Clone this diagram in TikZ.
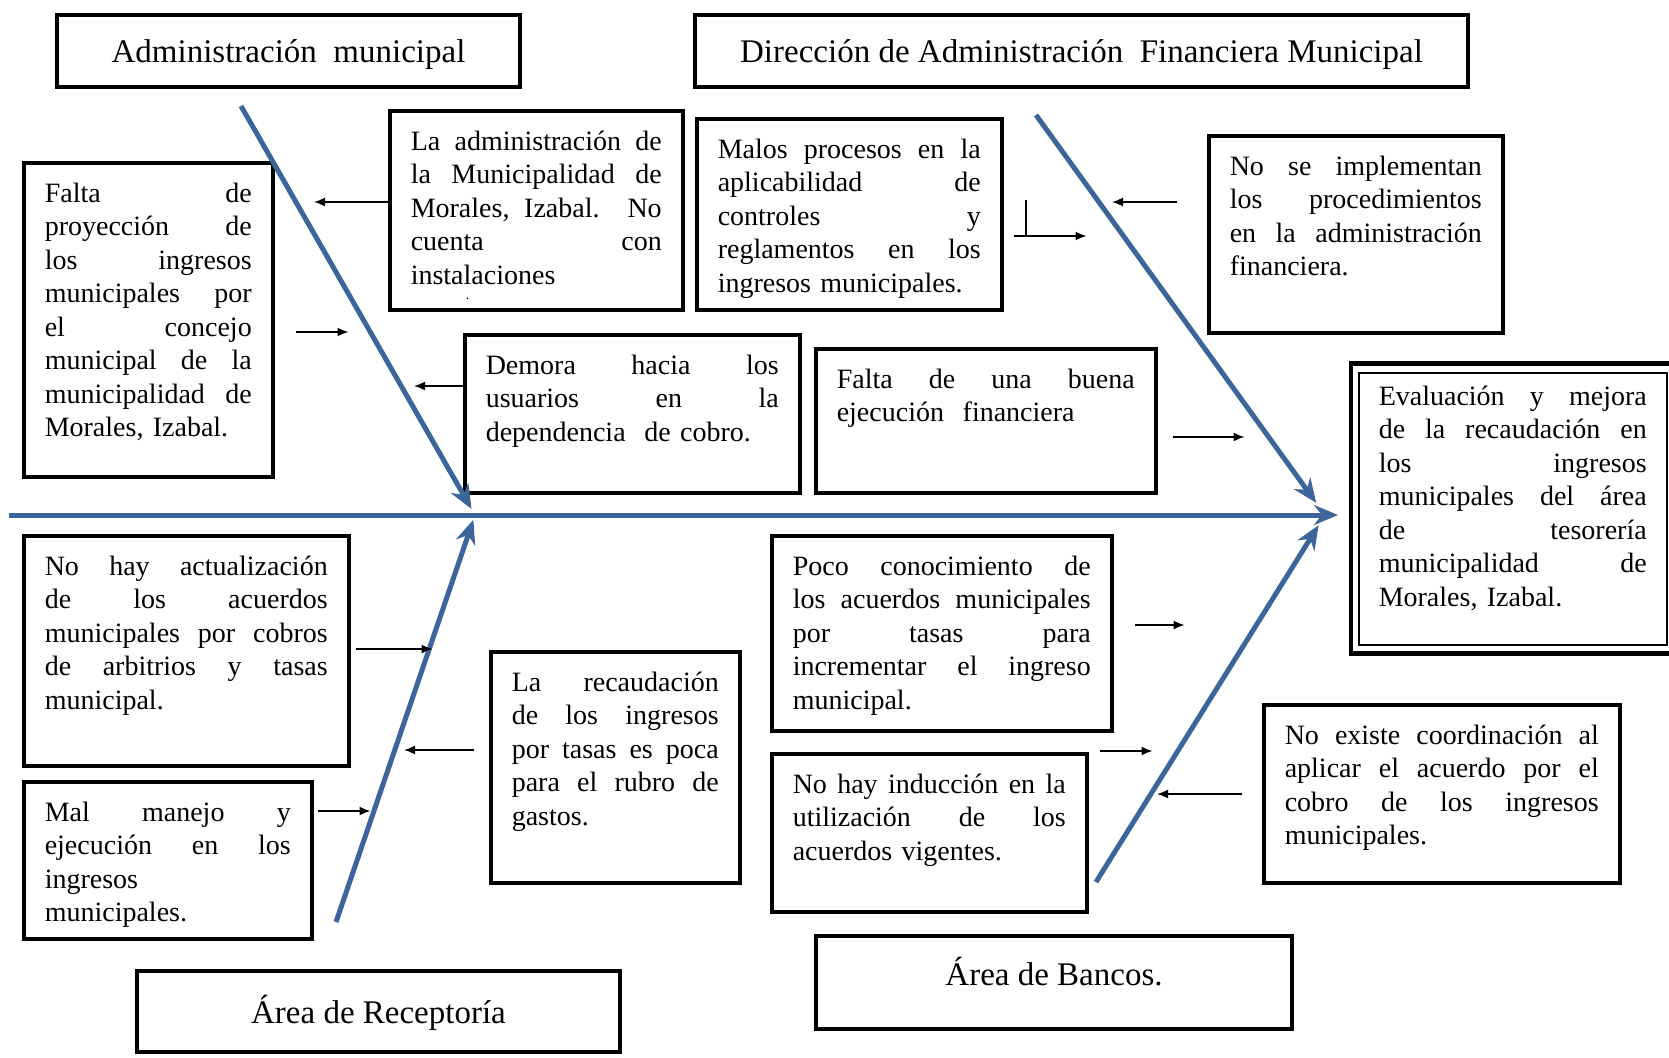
\documentclass[tikz,border=0pt]{standalone}
\usepackage{fontspec}
\setmainfont{Liberation Serif}
\usetikzlibrary{arrows.meta}
\definecolor{boneblue}{RGB}{60,102,155}
\newcommand{\jl}[1]{\makebox[\hsize][s]{\spaceskip=0pt\xspaceskip=0pt #1}\\}

\begin{document}
\begin{tikzpicture}[x=1pt,y=-1pt,
	causa/.style={draw, line width=3.5pt, anchor=north west, align=left, inner xsep=21pt, inner ysep=20pt, text height=19.5pt, font=\fontsize{28}{33.5}\selectfont},
	titulo/.style={draw, line width=3.5pt, align=center, inner sep=0pt, text height=30pt, text depth=7pt, font=\fontsize{33}{40}\selectfont},
	hueso/.style={boneblue, line width=5pt, -{Stealth[length=24pt,width=20pt]}},
	flecha/.style={line width=1.6pt, -{Latex[length=11pt,width=9pt]}}]
	\useasboundingbox (0,0) rectangle (1669,1057);

	\node[titulo, minimum width=463pt, minimum height=72pt] (tadmin) at (288.5,51) {Administración~ municipal};
	\node[titulo, minimum width=773pt, minimum height=72pt] (tdir) at (1081.5,51) {Dirección de Administración~ Financiera Municipal};
	\node[titulo, minimum width=483pt, minimum height=81pt] (trecep) at (378.5,1011.5) {Área de Receptoría};
	\node[titulo, minimum width=476pt, minimum height=93pt, text depth=25pt] (tbancos) at (1054,982.5) {Área de Bancos.};

	\node[causa, text width=251pt, text depth=139.5pt] (admin) at (388,109) {\jl{La administración de}\jl{la Municipalidad de}\jl{Morales, Izabal. No}\jl{cuenta con}instalaciones\\[-18pt]\hspace*{55pt}{\fontsize{14}{14}\selectfont .}};
	\node[causa, text width=263pt, text depth=131.5pt] (malos) at (695,117) {\jl{Malos procesos en la}\jl{aplicabilidad de}\jl{controles y}\jl{reglamentos en los}ingresos municipales.};
	\node[causa, text width=207pt, text depth=254.5pt] (faltaproy) at (22,161) {\jl{Falta de}\jl{proyección de}\jl{los ingresos}\jl{municipales por}\jl{el concejo}\jl{municipal de la}\jl{municipalidad de}Morales, Izabal.};
	\node[causa, text width=252pt, text depth=137.5pt] (noimpl) at (1207,134) {\jl{No se implementan}\jl{los procedimientos}\jl{en la administración}financiera.};
	\node[causa, text width=293pt, text depth=98.5pt] (demora) at (463,333) {\jl{Demora hacia los}\jl{usuarios en la}dependencia~ de cobro.};
	\node[causa, text width=298pt, text depth=84.5pt] (faltabuena) at (814,347) {\jl{Falta de una buena}ejecución~ financiera};
	\node[causa, line width=1.5pt, inner xsep=20pt, inner ysep=13pt, text width=268pt, text depth=226.5pt] (eval) at (1358,372) {\jl{Evaluación y mejora}\jl{de la recaudación en}\jl{los ingresos}\jl{municipales del área}\jl{de tesorería}\jl{municipalidad de}Morales, Izabal.};
	\draw[line width=4.5pt] ([shift={(-7,-8.5)}]eval.north west) rectangle ([shift={(8,8)}]eval.south east);

	\node[causa, text width=283pt, text depth=170.5pt] (noact) at (22,534) {\jl{No hay actualización}\jl{de los acuerdos}\jl{municipales por cobros}\jl{de arbitrios y tasas}municipal.};
	\node[causa, text width=246pt, text depth=97.5pt] (malmanejo) at (22,780) {\jl{Mal manejo y}\jl{ejecución en los}ingresos\\municipales.};
	\node[causa, text width=207pt, text depth=171.5pt] (recaud) at (489,650) {\jl{La recaudación}\jl{de los ingresos}\jl{por tasas es poca}\jl{para el rubro de}gastos.};
	\node[causa, text width=298pt, text depth=135.5pt] (poco) at (770,534) {\jl{Poco conocimiento de}\jl{los acuerdos municipales}\jl{por tasas para}\jl{incrementar el ingreso}municipal.};
	\node[causa, text width=273pt, text depth=98.5pt] (induccion) at (770,752) {\jl{No hay inducción en la}\jl{utilización de los}acuerdos vigentes.};
	\node[causa, text width=314pt, text depth=118.5pt] (noexiste) at (1262,703) {\jl{No existe coordinación al}\jl{aplicar el acuerdo por el}\jl{cobro de los ingresos}municipales.};

	\coordinate (cola) at (9,515);
	\coordinate (ja) at (475,515);
	\coordinate (jb) at (1325,515);
	\coordinate (ua) at (241,106);
	\coordinate (la) at (336,922);
	\coordinate (ub) at (1036,115);
	\coordinate (lb) at (1096,882);
	\draw[hueso, shorten >=20pt] (cola) -- (cola -| eval.west);
	\draw[hueso, shorten >=7pt] (ua) -- (ja);
	\draw[hueso, shorten >=5pt] (la) -- (ja);
	\draw[hueso, shorten >=15pt] (ub) -- (jb);
	\draw[hueso, shorten >=12pt] (lb) -- (jb);

	\draw[flecha] (admin.west |- 0,202) -- ++(-74,0);
	\draw[flecha] (faltaproy.east |- 0,332) ++(21,0) -- ++(53,0);
	\draw[flecha] (demora.west |- 0,386) -- ++(-49,0);
	\draw[line width=2pt] (malos.east |- 0,200) ++(22,0) -- ++(0,36);
	\draw[flecha] (malos.east |- 0,236) ++(10,0) -- ++(73,0);
	\draw[flecha] (noimpl.west |- 0,202) ++(-30,0) -- ++(-65,0);
	\draw[flecha] (faltabuena.east |- 0,437) ++(15,0) -- ++(72,0);
	\draw[flecha] (noact.east |- 0,649) ++(5,0) -- ++(77,0);
	\draw[flecha] (recaud.west |- 0,750) ++(-15,0) -- ++(-70,0);
	\draw[flecha] (malmanejo.east |- 0,811) ++(4,0) -- ++(53,0);
	\draw[flecha] (poco.east |- 0,625) ++(21,0) -- ++(50,0);
	\draw[flecha] (induccion.east |- 0,751) ++(11,0) -- ++(53,0);
	\draw[flecha] (noexiste.west |- 0,794) ++(-20,0) -- ++(-85,0);
\end{tikzpicture}
\end{document}
